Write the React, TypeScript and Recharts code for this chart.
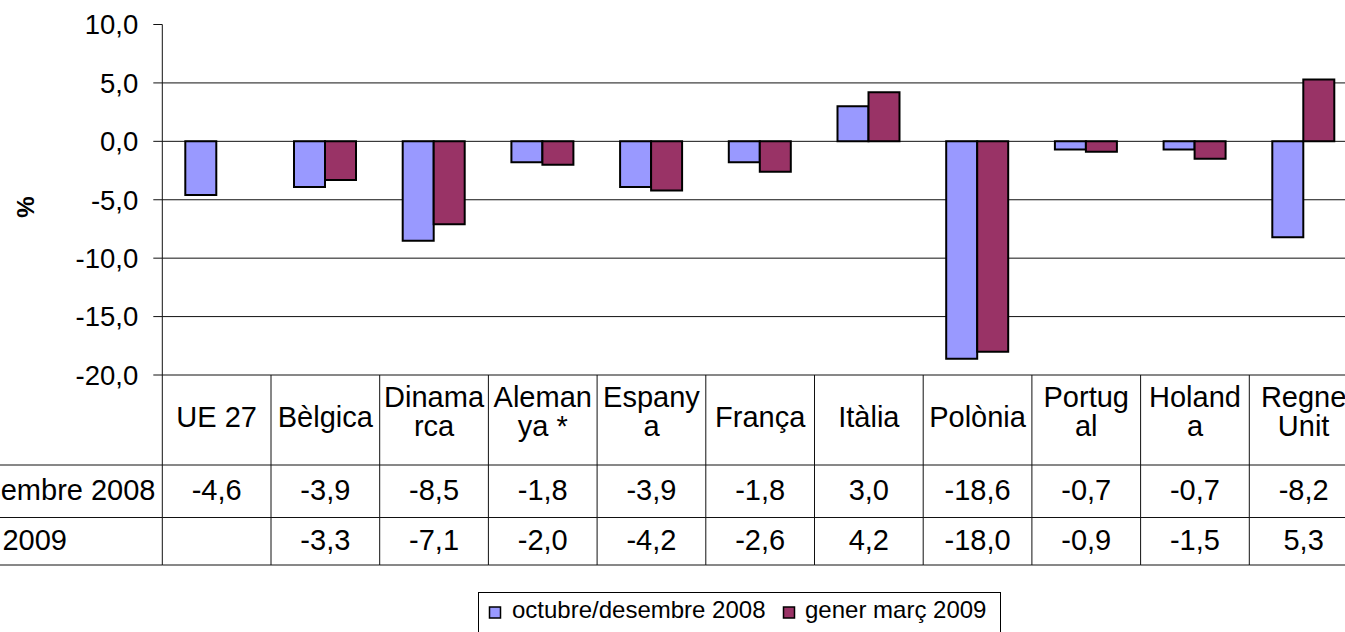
import React from 'react';
import { BarChart, Bar, XAxis, YAxis, CartesianGrid } from 'recharts';

const categories = ['UE 27', 'Bèlgica', 'Dinamarca', 'Alemanya *', 'Espanya', 'França', 'Itàlia', 'Polònia', 'Portugal', 'Holanda', 'Regne Unit'];
const categoryLines = [['UE 27'], ['Bèlgica'], ['Dinama', 'rca'], ['Aleman', 'ya *'], ['Espany', 'a'], ['França'], ['Itàlia'], ['Polònia'], ['Portug', 'al'], ['Holand', 'a'], ['Regne', 'Unit']];
const octDes2008: (number | null)[] = [-4.6, -3.9, -8.5, -1.8, -3.9, -1.8, 3.0, -18.6, -0.7, -0.7, -8.2];
const generMarc2009: (number | null)[] = [null, -3.3, -7.1, -2.0, -4.2, -2.6, 4.2, -18.0, -0.9, -1.5, 5.3];
const seriesNames = ['octubre/desembre 2008', 'gener març 2009'];
const yTicks = [-20, -15, -10, -5, 0, 5, 10];
const gridValues = [-15, -10, -5, 0, 5];

const data = categories.map((name, i) => ({ name, a: octDes2008[i], b: generMarc2009[i] }));

const FONT = '"Liberation Sans", Arial, sans-serif';
const CHART_W = 1360;
const CHART_H = 632;
const MARGIN = { top: 24.5, right: 2, bottom: 67, left: 0 };
const Y_AXIS_W = 162.3;
const X_AXIS_H = 190;
const BW = (CHART_W - MARGIN.left - MARGIN.right - Y_AXIS_W) / categories.length;
const LINE = '#111';

const fmt = (v: number | null) => (v === null || v === undefined ? '' : (Math.abs(v) < 1e-9 ? 0 : v).toFixed(1).replace('.', ','));

const TableTick = (props: any) => {
  const { x, y, index } = props;
  const left = x - BW / 2;
  const right = x + BW / 2;
  const lines = categoryLines[index] || [];
  const fs = 29;
  return (
    <g fontFamily={FONT} fontSize={fs} fill="#000">
      {index === 0 && (
        <g>
          <line x1={-10} x2={left} y1={y + 90} y2={y + 90} stroke={LINE} strokeWidth={1} />
          <line x1={-10} x2={left} y1={y + 142.5} y2={y + 142.5} stroke={LINE} strokeWidth={1} />
          <line x1={-10} x2={left} y1={y + 190} y2={y + 190} stroke={LINE} strokeWidth={1} />
          <line x1={left} x2={left} y1={y} y2={y + 190} stroke={LINE} strokeWidth={1} />
          <text x={155.5} y={y + 125} textAnchor="end">{seriesNames[0]}</text>
          <text x={67} y={y + 175} textAnchor="end">{seriesNames[1]}</text>
        </g>
      )}
      <line x1={right} x2={right} y1={y} y2={y + 190} stroke={LINE} strokeWidth={1} />
      <line x1={left} x2={right} y1={y + 90} y2={y + 90} stroke={LINE} strokeWidth={1} />
      <line x1={left} x2={right} y1={y + 142.5} y2={y + 142.5} stroke={LINE} strokeWidth={1} />
      <line x1={left} x2={right} y1={y + 190} y2={y + 190} stroke={LINE} strokeWidth={1} />
      {lines.length === 1 ? (
        <text x={x} y={y + 51.7} textAnchor="middle">{lines[0]}</text>
      ) : (
        <g>
          <text x={x} y={y + 31.5} textAnchor="middle">{lines[0]}</text>
          <text x={x} y={y + 60.5} textAnchor="middle">{lines[1]}</text>
        </g>
      )}
      <text x={x} y={y + 125} textAnchor="middle">{fmt(octDes2008[index])}</text>
      <text x={x} y={y + 175} textAnchor="middle">{fmt(generMarc2009[index])}</text>
    </g>
  );
};

const PercentLabel = () => (
  <text x={25} y={207} transform="rotate(-90 25 207)" textAnchor="middle" dominantBaseline="central" fontFamily={FONT} fontSize={24} fontWeight="bold" fill="#000">%</text>
);

const Legend = () => (
  <svg width={1345} height={632} style={{ position: 'absolute', left: 0, top: 0, pointerEvents: 'none' }}>
    <rect x={478.5} y={592.5} width={522} height={60} fill="#fff" stroke="#000" strokeWidth={1} />
    <rect x={489.5} y={607} width={11} height={11} fill="#9999FF" stroke="#000" strokeWidth={1.5} />
    <text x={512} y={618} fontFamily={FONT} fontSize={24} fill="#000">{seriesNames[0]}</text>
    <rect x={783.5} y={607} width={11} height={11} fill="#993366" stroke="#000" strokeWidth={1.5} />
    <text x={805} y={618} fontFamily={FONT} fontSize={24} fill="#000">{seriesNames[1]}</text>
  </svg>
);

export default function App() {
  return (
    <div style={{ position: 'absolute', left: 0, top: 0, width: 1345, height: 632, overflow: 'hidden', background: '#fff' }}>
      <BarChart width={CHART_W} height={CHART_H} data={data} margin={MARGIN} barGap={0} barSize={31}>
        <CartesianGrid vertical={false} horizontalValues={gridValues} stroke={LINE} strokeWidth={1} />
        <XAxis
          dataKey="name"
          height={X_AXIS_H}
          tickLine={false}
          tickSize={0}
          tickMargin={0}
          axisLine={{ stroke: LINE, strokeWidth: 1 }}
          tick={<TableTick />}
          interval={0}
        />
        <YAxis
          width={Y_AXIS_W}
          domain={[-20, 10]}
          ticks={yTicks}
          interval={0}
          tickFormatter={(v: number) => fmt(v)}
          tickSize={9}
          tickMargin={15}
          tick={{ fill: '#000', fontSize: 27.5, fontFamily: FONT }}
          axisLine={{ stroke: LINE, strokeWidth: 1 }}
          tickLine={{ stroke: LINE, strokeWidth: 1 }}
          allowDataOverflow
          label={{ content: () => <PercentLabel /> }}
        />
        <Bar dataKey="a" name={seriesNames[0]} fill="#9999FF" stroke="#000" strokeWidth={2} isAnimationActive={false} />
        <Bar dataKey="b" name={seriesNames[1]} fill="#993366" stroke="#000" strokeWidth={2} isAnimationActive={false} />
      </BarChart>
      <Legend />
    </div>
  );
}
